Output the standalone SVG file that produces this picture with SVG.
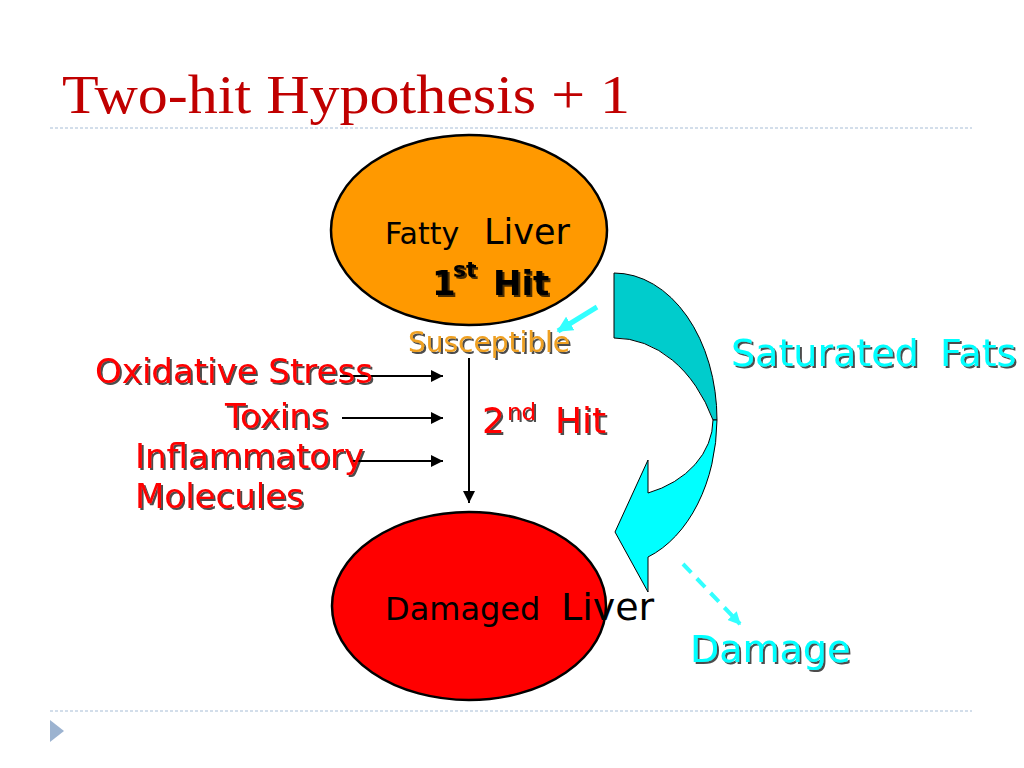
<svg xmlns="http://www.w3.org/2000/svg" width="1024" height="768" viewBox="0 0 1024 768">
<defs>
<style>
.lbl{font-family:"DejaVu Sans","Liberation Sans",sans-serif;}
.red{fill:#FF0000;}
.cy{fill:#00FFFF;}
.sh{filter:url(#shadow);}
.conn{stroke:#000;stroke-width:2;fill:none;}
.dot{stroke:#A7BDD6;stroke-width:1;stroke-dasharray:3 2;}
</style>
<filter id="shadow" x="-10%" y="-20%" width="130%" height="160%">
<feDropShadow dx="2" dy="2" stdDeviation="0.7" flood-color="#000" flood-opacity="0.7"/>
</filter>
<marker id="ah" viewBox="0 0 10 10" refX="10" refY="5" markerWidth="6" markerHeight="6" orient="auto" markerUnits="strokeWidth">
<path d="M0,0 L10,5 L0,10 Z" fill="#000"/>
</marker>
<marker id="ahc" viewBox="0 0 10 10" refX="9" refY="5" markerWidth="3.2" markerHeight="3.2" orient="auto" markerUnits="strokeWidth">
<path d="M0,0 L10,5 L0,10 Z" fill="#33FFFF"/>
</marker>
</defs>
<rect width="1024" height="768" fill="#fff"/>

<g id="title">
<text x="62" y="113" font-family="Liberation Serif, serif" font-size="55" fill="#C00000" textLength="568" lengthAdjust="spacingAndGlyphs">Two-hit Hypothesis + 1</text>
<line class="dot" x1="50" y1="128" x2="972" y2="128"/>
<line class="dot" x1="50" y1="711" x2="972" y2="711"/>
<path d="M50,720 L64,731 L50,742 Z" fill="#9CB3D0"/>
</g>

<g id="curved-arrow">
<path d="M614,273 A103,147 0 0 1 717,420 L713,420 A110,147 0 0 0 614,338 Z" fill="#00CCCC" stroke="#000" stroke-width="1"/>
<path d="M717,420 A103,147 0 0 1 648,557 L648,592 L615,532 L648,460 L648,493 A99,78 0 0 0 713,420 Z" fill="#00FFFF" stroke="#000" stroke-width="1"/>
</g>

<g id="connectors">
<line class="conn" x1="340" y1="376" x2="443" y2="376" marker-end="url(#ah)"/>
<line class="conn" x1="342" y1="418" x2="443" y2="418" marker-end="url(#ah)"/>
<line class="conn" x1="350" y1="461" x2="443" y2="461" marker-end="url(#ah)"/>
<line class="conn" x1="469" y1="358" x2="469" y2="503" marker-end="url(#ah)"/>
<line x1="597" y1="307" x2="558" y2="331" stroke="#33FFFF" stroke-width="5" marker-end="url(#ahc)"/>
<line x1="683" y1="564" x2="740" y2="624" stroke="#33FFFF" stroke-width="4" stroke-dasharray="12 8" marker-end="url(#ahc)"/>
</g>

<g id="fatty-liver">
<ellipse cx="469" cy="230" rx="138" ry="95" fill="#FF9900" stroke="#000" stroke-width="2.5"/>
<text class="lbl" y="244" fill="#000"><tspan x="385" font-size="30">Fatty</tspan><tspan x="484" font-size="35">Liver</tspan></text>
<text class="lbl sh" y="295" font-weight="bold" fill="#000"><tspan x="432" font-size="34">1</tspan><tspan x="453" y="277" font-size="22">st</tspan><tspan x="493" y="295" font-size="34">Hit</tspan></text>
</g>

<g id="susceptible">
<text class="lbl sh" x="408" y="352" font-size="28" fill="#EFA020">Susceptible</text>
</g>

<g id="damaged-liver">
<ellipse cx="469" cy="606" rx="137" ry="94" fill="#FF0000" stroke="#000" stroke-width="2.5"/>
<text class="lbl" y="620" fill="#000"><tspan x="385" font-size="32">Damaged</tspan><tspan x="561" font-size="38">Liver</tspan></text>
</g>

<g id="oxidative-stress"><text class="lbl red sh" x="95" y="383" font-size="34">Oxidative Stress</text></g>
<g id="toxins"><text class="lbl red sh" x="225" y="428" font-size="34">Toxins</text></g>
<g id="inflammatory"><text class="lbl red sh" font-size="34"><tspan x="135" y="468">Inflammatory</tspan><tspan x="135" y="508">Molecules</tspan></text></g>

<g id="second-hit">
<text class="lbl red sh" y="433"><tspan x="482" font-size="36">2</tspan><tspan x="507" y="420" font-size="23">nd</tspan><tspan x="555" y="433" font-size="36">Hit</tspan></text>
</g>

<g id="saturated-fats">
<text class="lbl cy sh" y="366" font-size="38"><tspan x="731">Saturated</tspan><tspan x="940">Fats</tspan></text>
</g>

<g id="damage">
<text class="lbl cy sh" x="690" y="662" font-size="38">Damage</text>
</g>
</svg>
